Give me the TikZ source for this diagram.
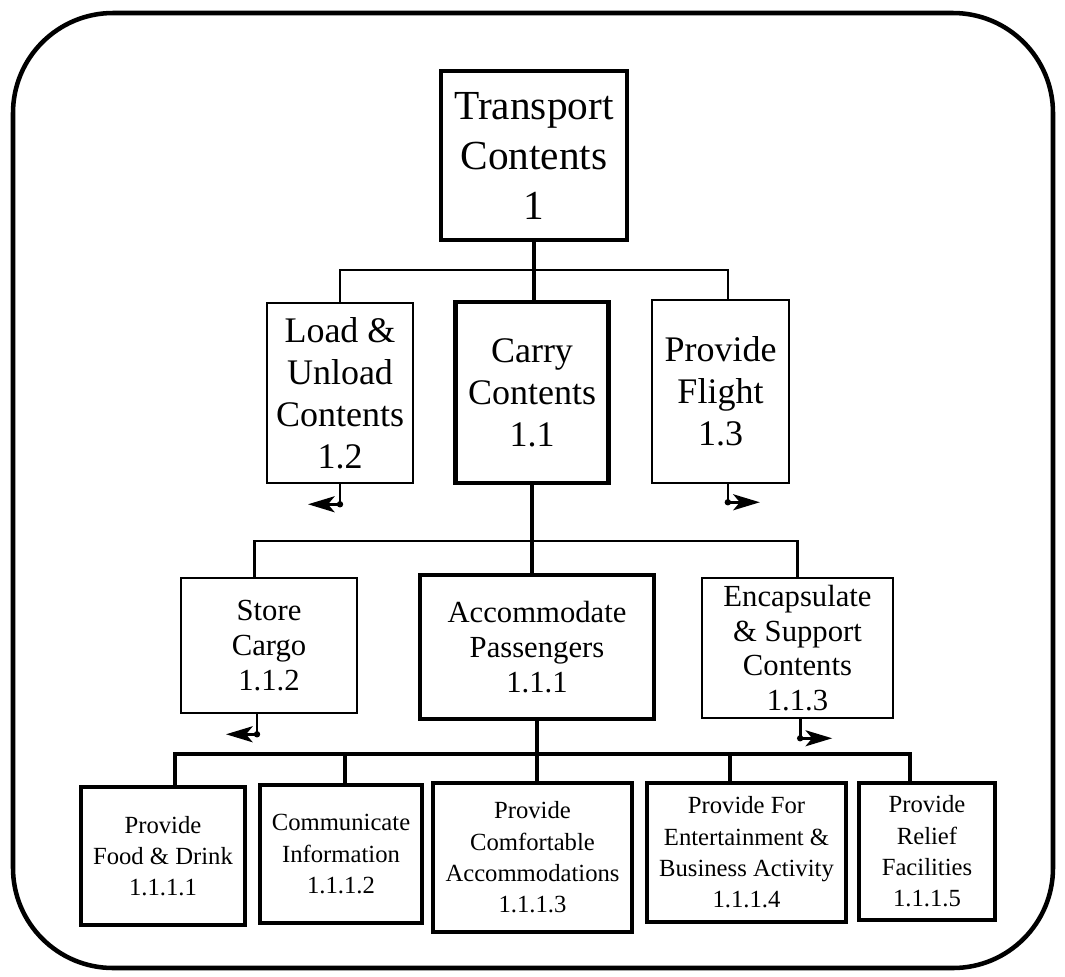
\documentclass[tikz,border=0pt]{standalone}
\usepackage{fontspec}
\setmainfont{Liberation Serif}
\usetikzlibrary{arrows.meta}
\begin{document}
\begin{tikzpicture}[x=0.75pt,y=-0.75pt,
  sz/.style 2 args={minimum width={#1*0.75pt}, minimum height={#2*0.75pt}},
  thinbox/.style={draw, line width=1.9pt, inner sep=0pt, align=center},
  thickbox/.style={draw, line width=3.6pt, inner sep=0pt, align=center},
  lvlzero/.style={font=\fontsize{31}{37.5}\selectfont},
  lvlone/.style={font=\fontsize{27}{31.5}\selectfont},
  lvltwo/.style={font=\fontsize{23}{26}\selectfont},
  lvlthree/.style={font=\fontsize{18.5}{23.5}\selectfont},
  thinlink/.style={line width=1.9pt},
  thicklink/.style={line width=3.6pt},
  offpage/.style={line width=2pt, -{Stealth[length=20pt,width=12pt,inset=5pt]}},
  jointdot/.style={fill=black}
]
\useasboundingbox (0,0) rectangle (1065,976);

% outer frame
\draw[line width=3.4pt, rounded corners=75pt] (13,13) rectangle (1053,968);

% top function
\node[thickbox, lvlzero, sz={186}{169}] (T) at (534,155.5) {Transport\\Contents\\1};

% first decomposition
\node[thinbox, lvlone, sz={146}{180}] (L) at (340,393) {Load \&\\Unload\\Contents\\1.2};
\node[thickbox, lvlone, sz={153}{181}] (C) at (532,392.5) {Carry\\Contents\\1.1};
\node[thinbox, lvlone, sz={137}{183}] (F) at (720.5,391.5) {Provide\\Flight\\1.3};

% second decomposition
\node[thinbox, lvltwo, sz={176}{135}] (S) at (269,645.5) {Store\\Cargo\\1.1.2};
\node[thickbox, lvltwo, sz={234}{144}] (A) at (537,647) {Accommodate\\Passengers\\1.1.1};
\node[thinbox, lvltwo, sz={191}{140}] (E) at (797.5,648) {Encapsulate\\\& Support\\Contents\\1.1.3};

% third decomposition
\node[thickbox, lvlthree, sz={164}{138}] (P1) at (163,856) {Provide\\Food \& Drink\\1.1.1.1};
\node[thickbox, lvlthree, sz={162}{138}] (P2) at (341,854) {Communicate\\Information\\1.1.1.2};
\node[thickbox, lvlthree, sz={199}{149}] (P3) at (532.5,857.5) {Provide\\Comfortable\\Accommodations\\1.1.1.3};
\node[thickbox, lvlthree, sz={199}{139}] (P4) at (746.5,852.5) {Provide For\\Entertainment \&\\Business Activity\\1.1.1.4};
\node[thickbox, lvlthree, sz={136}{137}] (P5) at (927,851.5) {Provide\\Relief\\Facilities\\1.1.1.5};

% bus lines
\coordinate (h1) at (534,270);
\coordinate (h2) at (534,541);
\coordinate (h3) at (537,754);

% level 1 links
\coordinate (ft) at ([xshift=5.5pt]F.north);
\draw[thicklink] (T.south) -- (T.south |- C.north);
\draw[thinlink] (L.north) |- (h1) -| (ft);

% level 2 links
\coordinate (st) at ([xshift=-11pt]S.north);
\draw[thicklink] (C.south) -- (C.south |- A.north);
\draw[thinlink] (st) |- (h2) -| (E.north);

% level 3 links
\coordinate (q1) at ([xshift=9pt]P1.north);
\coordinate (q2) at ([xshift=3pt]P2.north);
\coordinate (q3) at ([xshift=3.4pt]P3.north);
\coordinate (q4) at ([xshift=-12.4pt]P4.north);
\coordinate (q5) at ([xshift=-12.75pt]P5.north);
\draw[thicklink] (A.south) -- (A.south |- h3);
\draw[thicklink] (q1) |- (h3) -| (q5);
\draw[thicklink] (q2) -- (q2 |- h3);
\draw[thicklink] (q3) -- (q3 |- h3);
\draw[thicklink] (q4) -- (q4 |- h3);

% continuation arrows
\draw[offpage] (L.south) -- ++(0,20) coordinate (la) -- ++(-32,0);
\fill[jointdot] (la) circle (2.4pt);
\coordinate (fs) at ([xshift=5.5pt]F.south);
\draw[offpage] (fs) -- ++(0,18) coordinate (fa) -- ++(32,0);
\fill[jointdot] (fa) circle (2.4pt);
\coordinate (ss) at ([xshift=-9pt]S.south);
\draw[offpage] (ss) -- ++(0,20) coordinate (sa) -- ++(-31,0);
\fill[jointdot] (sa) circle (2.4pt);
\coordinate (es) at ([xshift=2pt]E.south);
\draw[offpage] (es) -- ++(0,19) coordinate (ea) -- ++(32,0);
\fill[jointdot] (ea) circle (2.4pt);
\end{tikzpicture}
\end{document}
